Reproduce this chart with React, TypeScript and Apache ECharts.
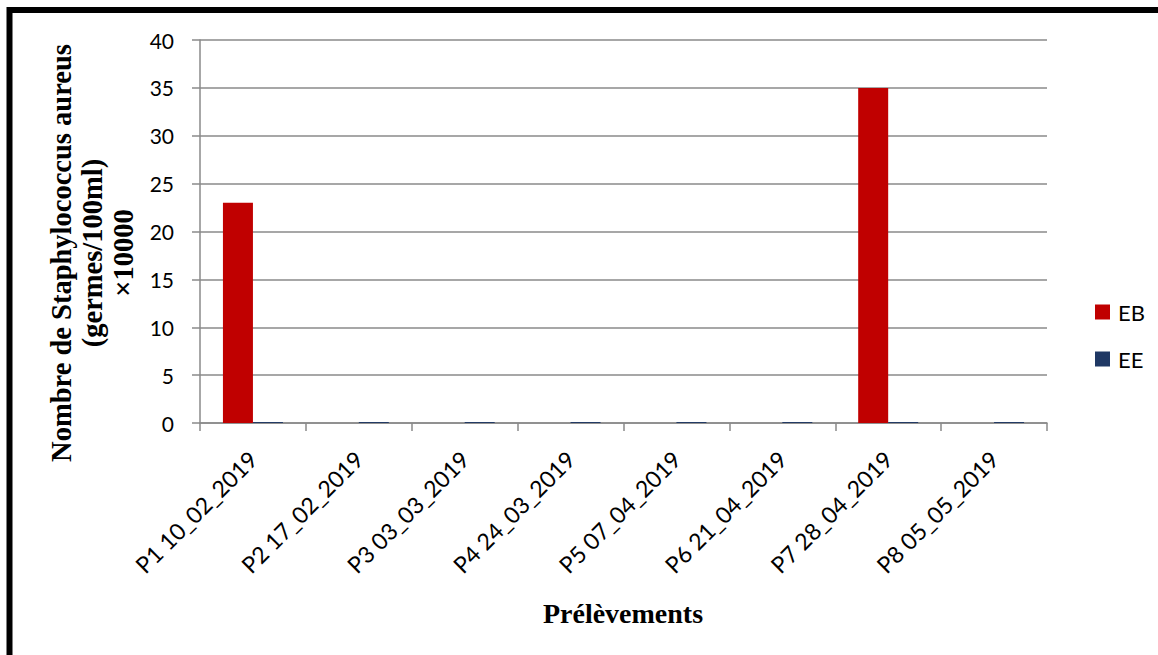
import React, { useEffect, useRef } from "react";
import * as echarts from "echarts";

// Sampling campaigns
const categories = [
  "P1 10_02_2019",
  "P2 17_02_2019",
  "P3 03_03_2019",
  "P4 24_03_2019",
  "P5 07_04_2019",
  "P6 21_04_2019",
  "P7 28_04_2019",
  "P8 05_05_2019",
];

// Staphylococcus aureus counts (germes/100ml ×10000)
const ebValues = [23, 0, 0, 0, 0, 0, 35, 0];
const eeValues = [0.1, 0.1, 0.1, 0.1, 0.1, 0.1, 0.1, 0.1];

const seriesNames = ["EB", "EE"];
const yTicks = { min: 0, max: 40, interval: 5 };

const yTitle = "Nombre de Staphylococcus aureus\n(germes/100ml)\n×10000";
const xTitle = "Prélèvements";

const LABEL_FONT = "Lato, 'Open Sans', sans-serif";
const TITLE_FONT = '"Liberation Serif", "Times New Roman", serif';
const GRID_GREY = "#8a8a8a";

export default function App() {
  const ref = useRef<HTMLDivElement>(null);

  useEffect(() => {
    if (!ref.current) return;
    const chart = echarts.init(ref.current, null, { renderer: "svg" });
    chart.setOption({
      animation: false,
      backgroundColor: "#ffffff",
      grid: { left: 200, right: 111, top: 40, bottom: 232, containLabel: false },
      legend: {
        orient: "vertical",
        left: 1090,
        top: 296,
        itemWidth: 15,
        itemHeight: 15,
        itemGap: 25,
        icon: "rect",
        data: seriesNames,
        textStyle: {
          fontFamily: LABEL_FONT,
          fontSize: 22,
          color: "#000",
          padding: [0, 0, 0, 3],
        },
      },
      xAxis: {
        type: "category",
        data: categories,
        boundaryGap: true,
        axisLine: { show: true, lineStyle: { color: GRID_GREY, width: 1.5 } },
        axisTick: { show: true, length: 8, inside: false, lineStyle: { color: GRID_GREY, width: 1.5 } },
        axisLabel: {
          interval: 0,
          rotate: 45,
          margin: 32,
          fontFamily: LABEL_FONT,
          fontSize: 23,
          color: "#000",
        },
        splitLine: { show: false },
      },
      yAxis: {
        type: "value",
        min: yTicks.min,
        max: yTicks.max,
        interval: yTicks.interval,
        axisLine: { show: true, lineStyle: { color: GRID_GREY, width: 1.5 } },
        axisTick: { show: true, length: 8, lineStyle: { color: GRID_GREY, width: 1.5 } },
        axisLabel: {
          margin: 26,
          fontFamily: LABEL_FONT,
          fontSize: 21,
          color: "#000",
        },
        splitLine: { show: true, lineStyle: { color: GRID_GREY, width: 1.5 } },
      },
      series: [
        {
          name: seriesNames[0],
          type: "bar",
          data: ebValues,
          barWidth: 30,
          barGap: "0%",
          itemStyle: { color: "#C00000" },
        },
        {
          name: seriesNames[1],
          type: "bar",
          data: eeValues,
          barWidth: 30,
          barGap: "0%",
          itemStyle: { color: "#1F3864" },
        },
      ],
      graphic: [
        {
          type: "rect",
          silent: true,
          shape: { x: 9.5, y: 10, width: 1200, height: 700 },
          style: { fill: "none", stroke: "#000", lineWidth: 6 },
        },
        {
          type: "text",
          x: 92,
          y: 253,
          rotation: Math.PI / 2,
          style: {
            text: yTitle,
            font: `bold 28.5px ${TITLE_FONT}`,
            fill: "#000",
            textAlign: "center",
            textVerticalAlign: "middle",
            lineHeight: 31,
          },
        },
        {
          type: "text",
          x: 623,
          y: 613,
          style: {
            text: xTitle,
            font: `bold 28px ${TITLE_FONT}`,
            fill: "#000",
            textAlign: "center",
            textVerticalAlign: "middle",
          },
        },
      ],
    });
    return () => chart.dispose();
  }, []);

  return (
    <div
      ref={ref}
      style={{ position: "fixed", left: 0, top: 0, width: 1158, height: 655 }}
    />
  );
}
